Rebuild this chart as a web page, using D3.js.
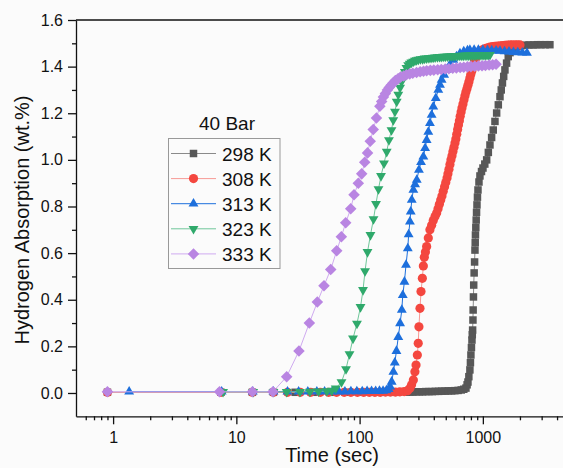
<!DOCTYPE html>
<html>
<head>
<meta charset="utf-8">
<script src="https://cdnjs.cloudflare.com/ajax/libs/d3/7.8.5/d3.min.js"></script>
<style>
  body { margin: 0; background: #fbfbfb; }
  svg { display: block; }
  text { font-family: "Liberation Sans", Arial, sans-serif; fill: #111; }
</style>
</head>
<body>
<script>
// values: [time (s), absorption (wt.%)]
var s298 = [[0.9,0.003],[7.5,0.003],[13.5,0.003],[20,0.003],[30,0.003],[42,0.003],[58,0.003],[80,0.003],[105,0.003],[135,0.003],[170,0.003],[205,0.003],
  [240,0.004],[255,0.004],[270,0.004],[287,0.005],[305,0.005],[324,0.005],[344,0.006],[365,0.006],[388,0.006],[412,0.007],[438,0.007],[465,0.008],[494,0.008],[525,0.009],[558,0.009],[593,0.010],[630,0.011],[668,0.013],[700,0.016],[729,0.021],
  [745,0.035],[757,0.047],[770,0.07],[785,0.099],[793,0.13],[800,0.163],[808,0.195],[816,0.227],[821,0.25],[826,0.27],
  [831,0.313],[834,0.356],[839,0.412],[843,0.463],[850,0.515],[857,0.562],[863,0.613],
  [867,0.645],[871,0.678],[877,0.71],[883,0.742],[889,0.775],[896,0.807],[904,0.84],[913,0.871],[930,0.905],[947,0.931],[975,0.95],[1002,0.965],[1037,0.982],[1074,1.0],
  [1108,1.032],[1142,1.064],[1178,1.096],[1214,1.128],[1254,1.165],[1294,1.201],[1335,1.236],[1377,1.271],[1410,1.30],[1442,1.33],[1476,1.358],[1511,1.386],[1558,1.415],[1607,1.443],
  [1662,1.46],[1722,1.471],[1800,1.48],[1880,1.486],[1960,1.489],[2050,1.49],[2194,1.492],[2370,1.493],[2563,1.493],[2750,1.494],[2958,1.494],[3200,1.494],[3500,1.494]];

var s308 = [[0.9,0.003],[7.5,0.003],[13.5,0.003],[20,0.003],[26,0.003],[33,0.003],[40,0.003],[48,0.003],[56,0.003],[65,0.003],[75,0.003],[85,0.003],[96,0.003],[108,0.003],[120,0.003],[133,0.003],[147,0.003],[162,0.004],[178,0.004],[195,0.004],[212,0.005],[230,0.006],[245,0.01],
  [256,0.02],[264,0.035],[273,0.056],[281,0.091],[287,0.12],[294,0.163],[299,0.213],[303,0.284],[309,0.363],[315,0.435],[323,0.492],[329,0.545],[335,0.582],
  [342,0.605],[350,0.628],[361,0.665],[372,0.70],[384,0.72],[396,0.74],[409,0.757],[422,0.772],[433,0.79],[444,0.81],[455,0.828],[466,0.845],[477,0.865],[489,0.885],[500,0.903],[512,0.922],[521,0.94],[531,0.96],[541,0.98],[551,1.0],
  [562,1.018],[572,1.036],[583,1.054],[594,1.072],[604,1.09],[614,1.11],[624,1.13],[634,1.15],[645,1.168],[655,1.187],[666,1.205],[677,1.223],[690,1.24],[703,1.258],[716,1.275],[729,1.291],[743,1.305],[757,1.32],[771,1.335],[785,1.351],[798,1.366],[812,1.38],[825,1.394],[839,1.407],[853,1.419],[867,1.43],[881,1.441],[896,1.45],
  [918,1.457],[940,1.462],[962,1.467],[984,1.471],[1020,1.475],[1060,1.478],[1100,1.481],[1142,1.484],[1195,1.486],[1250,1.487],[1310,1.488],[1377,1.489],[1440,1.49],[1510,1.491],[1580,1.492],[1660,1.493],[1740,1.493],[1830,1.493],[1910,1.493],[2000,1.493]];

var s313 = [[1.35,0.006],[7.6,0.006],[13.6,0.006],[20,0.006],[26,0.006],[32,0.006],[38,0.006],[45,0.006],[52,0.006],[60,0.006],[68,0.006],[76,0.006],[85,0.007],[95,0.007],[105,0.007],[115,0.008],[125,0.008],[135,0.008],[145,0.009],[155,0.009],[165,0.011],[172,0.016],[177,0.027],
  [182,0.048],[188,0.09],[193,0.13],[199,0.18],[206,0.24],[213,0.299],[220,0.356],[224,0.42],[231,0.477],[238,0.549],[246,0.62],[250,0.68],[256,0.735],[260,0.778],[265,0.828],[273,0.871],
  [282,0.895],[291,0.914],[303,0.957],[315,0.99],[329,1.014],[340,1.05],[350,1.085],[361,1.12],[372,1.157],[384,1.193],[396,1.228],[415,1.265],[435,1.30],[449,1.322],[463,1.343],[485,1.365],[508,1.386],[540,1.408],[575,1.429],[612,1.444],[652,1.457],
  [700,1.465],[750,1.469],[785,1.471],[850,1.472],[920,1.472],[1000,1.471],[1090,1.47],[1180,1.469],[1280,1.468],[1377,1.467],[1500,1.465],[1630,1.464],[1770,1.462],[1920,1.461],[2090,1.46],[2279,1.459]];

var s323 = [[7.8,0.005],[13.7,0.005],[20,0.005],[25.6,0.005],[32.8,0.005],[39.5,0.006],[46.4,0.007],[54.2,0.008],[59.4,0.01],[64,0.02],
  [71.3,0.047],[77.6,0.103],[82.8,0.167],[88.4,0.234],[95.2,0.298],[101.7,0.369],[106.6,0.442],[110.7,0.523],[115.9,0.605],[122.5,0.678],[129.6,0.746],[135.8,0.811],[142.3,0.875],[149.2,0.931],[157.7,0.985],[166,1.035],[173,1.085],[181.5,1.128],[187.6,1.171],[193.6,1.207],[200,1.25],
  [206,1.28],[213,1.31],[219,1.335],[226,1.357],[233,1.378],[240,1.395],[248,1.407],[255,1.413],[263,1.418],[272,1.422],[281,1.426],[290,1.428],[300,1.43],[312,1.432],[325,1.433],[337,1.435],[350,1.436],[365,1.437],[380,1.438],[395,1.439],[410,1.44],[428,1.441],[445,1.442],[460,1.442],[477,1.443],[495,1.443],
  [515,1.444],[535,1.444],[555,1.445],[578,1.445],[600,1.446],[625,1.446],[650,1.447],[675,1.447],[700,1.447],[730,1.448],[760,1.448],[790,1.448],[820,1.449],[850,1.449],[880,1.449],[915,1.45],[950,1.45],[985,1.45],[1020,1.45],[1050,1.451],[1080,1.451],[1110,1.451],[1142,1.451]];

var s333 = [[0.9,0.005],[7.3,0.005],[13.5,0.005],[19.8,0.005],[25.6,0.07],[32.2,0.18],[39.1,0.30],[45.4,0.39],[51.4,0.46],[58.3,0.53],[65.2,0.61],[71.1,0.67],[77.1,0.73],[84.7,0.79],[90.1,0.85],[97.6,0.90],
  [104,0.94],[110,0.99],[116,1.03],[122,1.08],[129,1.13],[137,1.18],[146,1.23],[151,1.25],[156,1.27],[162,1.285],[168,1.30],[174,1.31],[180,1.32],[187,1.33],[195,1.34],[205,1.348],[215,1.355],[228,1.36],[240,1.365],[255,1.369],[270,1.372],[290,1.375],[310,1.378],
  [330,1.38],[350,1.382],[375,1.384],[400,1.385],[430,1.387],[460,1.388],[495,1.39],[530,1.391],[570,1.393],[610,1.394],[655,1.396],[700,1.397],[750,1.399],[800,1.40],[860,1.402],[920,1.403],[985,1.404],[1050,1.405],[1125,1.407],[1200,1.408],[1280,1.41]];

var names = ["298 K", "308 K", "313 K", "323 K", "333 K"];
var seriesData = [s298, s308, s313, s323, s333];
var markColors = ["#575757", "#f4473f", "#1d6fdc", "#2fa96b", "#b985e2"];
var lineColors = ["#8a8a8a", "#f79a95", "#1d6fdc", "#6fc79a", "#cfaaf0"];
var yTicks = [0, 0.2, 0.4, 0.6, 0.8, 1.0, 1.2, 1.4, 1.6];
var xTicks = [1, 10, 100, 1000];

var W = 563, H = 468;
var padL = 76, padT = 20, axisY = 416.3;

var x = d3.scaleLog().domain([0.5, 5000]).range([padL, 569]);
var y = d3.scaleLinear().domain([-0.1, 1.6]).range([axisY, padT]);

var svg = d3.select("body").append("svg")
    .attr("width", W)
    .attr("height", H);

svg.append("rect").attr("width", W).attr("height", H).attr("fill", "#fbfbfb");

// marker shapes
function poly(pts) {
  return { draw: function(ctx, size) {
    var r = Math.sqrt(size);
    ctx.moveTo(pts[0][0] * r, pts[0][1] * r);
    for (var i = 1; i < pts.length; i++) ctx.lineTo(pts[i][0] * r, pts[i][1] * r);
    ctx.closePath();
  }};
}
var sq = poly([[-0.5,-0.5],[0.5,-0.5],[0.5,0.5],[-0.5,0.5]]);
var circ = { draw: function(ctx, size) { var r = Math.sqrt(size) / 2; ctx.moveTo(r, 0); ctx.arc(0, 0, r, 0, 2 * Math.PI); } };
var triUp = poly([[0,-0.6],[0.52,0.3],[-0.52,0.3]]);
var triDown = poly([[0,0.6],[0.52,-0.3],[-0.52,-0.3]]);
var diam = poly([[0,-0.55],[0.55,0],[0,0.55],[-0.55,0]]);
var shapes = [sq, circ, triUp, triDown, diam];
var sizes = [7.5 * 7.5, 9.2 * 9.2, 9.5 * 9.5, 9.5 * 9.5, 10.5 * 10.5];

// axes
var gy = svg.append("g").attr("transform", "translate(" + padL + ",0)");
gy.call(d3.axisLeft(y).tickValues(yTicks).tickFormat(d3.format(".1f")).tickSize(8).tickSizeOuter(0).tickPadding(5));
gy.append("g").call(d3.axisLeft(y).tickValues([0.1, 0.3, 0.5, 0.7, 0.9, 1.1, 1.3, 1.5]).tickFormat("").tickSize(4).tickSizeOuter(0))
  .select(".domain").remove();

var minor = [];
[0.1, 1, 10, 100, 1000].forEach(function(d) {
  for (var k = 2; k <= 9; k++) { var v = d * k; if (v > 0.5 && v <= 5000 && [1,10,100,1000].indexOf(v) < 0) minor.push(v); }
});
var gx = svg.append("g").attr("transform", "translate(0," + axisY + ")");
gx.call(d3.axisBottom(x).tickValues(xTicks).tickFormat(d3.format("d")).tickSize(8).tickSizeOuter(0).tickPadding(7));
gx.append("g").call(d3.axisBottom(x).tickValues(minor).tickFormat("").tickSize(4).tickSizeOuter(0))
  .select(".domain").remove();

svg.selectAll(".tick text").attr("font-size", 16).attr("fill", "#111");
svg.selectAll(".domain, .tick line").attr("stroke", "#111").attr("stroke-width", 1.3);

svg.append("line")
    .attr("x1", padL).attr("x2", W + 10)
    .attr("y1", padT).attr("y2", padT)
    .attr("stroke", "#111").attr("stroke-width", 1.3);

svg.append("text")
    .attr("x", 332).attr("y", 462)
    .attr("text-anchor", "middle")
    .attr("font-size", 20)
    .text("Time (sec)");

svg.append("text")
    .attr("transform", "translate(29,220) rotate(-90)")
    .attr("text-anchor", "middle")
    .attr("font-size", 20)
    .text("Hydrogen Absorption (wt.%)");

// series
var line = d3.line().x(function(d) { return x(d[0]); }).y(function(d) { return y(d[1]); });

seriesData.forEach(function(s, i) {
  var g = svg.append("g");
  g.append("path")
    .attr("d", line(s))
    .attr("fill", "none")
    .attr("stroke", lineColors[i])
    .attr("stroke-width", 1);
  g.selectAll("path.m")
    .data(s)
  .enter().append("path")
    .attr("class", "m")
    .attr("transform", function(d) { return "translate(" + x(d[0]) + "," + y(d[1]) + ")"; })
    .attr("d", d3.symbol().type(shapes[i]).size(sizes[i]))
    .attr("fill", markColors[i]);
});

// legend
var lg = svg.append("g");
lg.append("text")
    .attr("x", 227).attr("y", 130)
    .attr("text-anchor", "middle")
    .attr("font-size", 19)
    .text("40 Bar");
lg.append("rect")
    .attr("x", 168.5).attr("y", 138.5)
    .attr("width", 111.5).attr("height", 130)
    .attr("fill", "#fbfbfb")
    .attr("stroke", "#999").attr("stroke-width", 1);

names.forEach(function(n, i) {
  var cy = 153.5 + i * 25.1;
  lg.append("line")
    .attr("x1", 171).attr("x2", 216)
    .attr("y1", cy).attr("y2", cy)
    .attr("stroke", lineColors[i]).attr("stroke-width", 1);
  lg.append("path")
    .attr("transform", "translate(193.5," + cy + ")")
    .attr("d", d3.symbol().type(shapes[i]).size(sizes[i]))
    .attr("fill", markColors[i]);
  lg.append("text")
    .attr("x", 222).attr("y", cy + 7)
    .attr("font-size", 19)
    .text(n);
});
</script>
</body>
</html>
